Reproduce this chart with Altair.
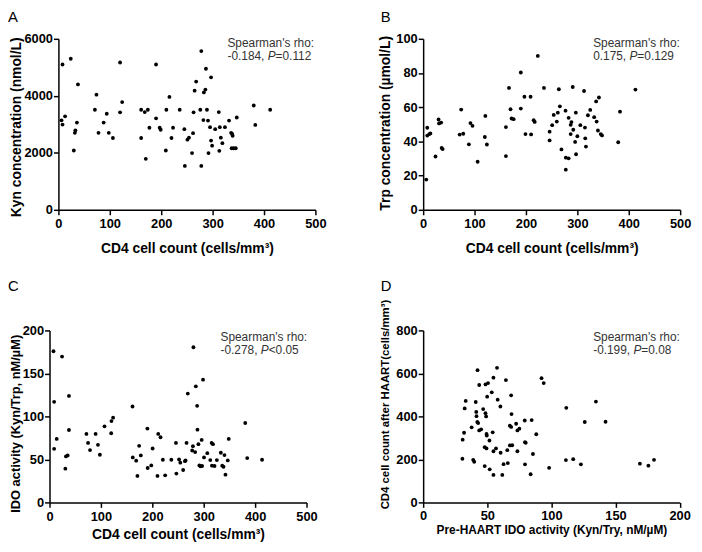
import altair as alt
import pandas as pd

# ---------------- data ----------------
a_x = [6, 8, 8, 13, 24, 30, 32, 33, 36, 38,
       71, 74, 78, 88, 94, 98, 106, 120, 120, 124,
       161, 161, 168, 170, 174, 177, 190, 190, 197, 199,
       209, 210, 216, 220, 223, 236, 245, 246, 251, 254,
       260, 262, 263, 265, 268, 276, 278, 278, 282, 283,
       286, 287, 289, 291, 292, 295, 297, 297, 299, 305,
       312, 313, 314, 316, 319, 324, 332, 336, 338, 339,
       337, 341, 345, 347, 380, 383, 412]
a_y = [3140, 2990, 5100, 3280, 5300, 2080, 2700, 2790, 3060, 4400,
       3510, 4040, 2700, 3060, 3370, 2700, 2520, 3420, 5170, 3780,
       3510, 2520, 3430, 1790, 3510, 2880, 5100, 3210, 2880, 2810,
       2080, 3510, 3960, 2520, 2880, 3510, 2830, 1540, 2460, 2530,
       1990, 2690, 3420, 4180, 4500, 3510, 5570, 1540, 3150, 4120,
       4220, 4950, 3510, 3130, 1990, 2900, 2430, 4650, 2250, 2830,
       3430, 2070, 2900, 2530, 2340, 2900, 3130, 2700, 2660, 2600,
       2160, 2160, 2160, 3240, 3660, 2980, 3510]

b_x = [6, 8, 8, 12, 14, 24, 30, 31, 35, 36, 38,
       71, 74, 78, 89, 92, 96, 106, 120, 121, 124,
       161, 161, 167, 170, 172, 176, 190, 190, 197, 199,
       209, 210, 215, 217, 223, 235, 246, 246, 251, 254,
       260, 264, 262, 266, 269, 277, 277.5, 283, 277.5, 283,
       287, 287, 288.5, 291, 292, 295.6, 297, 297.5, 300,
       305.8, 313, 314.8, 315.4, 316.7, 320.5, 325, 332.7, 336.5, 337.5,
       342, 340, 345.5, 348, 379.5, 383, 413]
b_y = [17.7, 48, 43.4, 44.3, 44.7, 31.2, 52.8, 50.5, 51, 36.2, 35.5,
       44, 58.6, 44.5, 38.3, 50.7, 49.1, 28.1, 42.6, 54.9, 38.2,
       31.4, 48.4, 71.3, 58.8, 53.4, 53, 80.3, 59.2, 66.1, 44.3,
       66.1, 44.1, 52.4, 51.4, 90, 71.3, 45.7, 40.6, 49.5, 55.5,
       51.6, 70.5, 56.8, 60.5, 35.3, 58, 30.5, 30.1, 23.5, 53.8,
       44.3, 49.7, 51.3, 71.8, 46.8, 39.7, 56.8, 32.5, 43,
       49.5, 69.5, 48.1, 41.8, 37, 55.3, 58.4, 54.2, 63.4, 51.6,
       65.7, 46.4, 44.3, 43.5, 39.5, 57.4, 70.3]

c_x = [7.7, 9, 9, 14, 24.4, 30.8, 32, 35.3, 37.8, 37.8,
       71.8, 75, 78.8, 89.7, 94.2, 98, 107, 120, 120.5, 123.7,
       161.5, 162, 168.6, 171, 174.4, 177.6, 191, 190.4, 198, 200.6,
       210, 211.5, 216, 220.5, 225, 237, 246, 246.8, 252, 254.5,
       260, 263.5, 264.7, 266.6, 269, 277.6, 279, 280, 283.3, 284.6,
       287.2, 287.8, 289.7, 291.6, 293.6, 296.8, 296, 298.7, 300.6, 307,
       312.8, 315.4, 318, 316, 321, 325.6, 333.3, 336, 338.5, 340.4,
       342.3, 346.8, 348.7, 380.8, 384.6, 413.5]
c_y = [175.8, 117, 62.3, 73.8, 169.6, 39.2, 53.5, 54.6, 123.8, 84.2,
       79.6, 69.2, 60.8, 79.6, 66.9, 55.4, 88.5, 80.4, 94.6, 98.5,
       111.5, 52.3, 48.5, 30.8, 65.8, 54.6, 40, 85.8, 43, 62.7,
       30.8, 79.6, 75.8, 49.6, 31.5, 49.6, 69.2, 33.5, 50, 46.2,
       37.7, 48, 48.8, 69.2, 126.5, 60.4, 65.4, 180.4, 58.5, 135,
       112.3, 84.6, 67.7, 43, 41.9, 42.3, 72.7, 142.7, 52.3, 57.3,
       49.2, 69.2, 67.7, 42.7, 42.3, 49.2, 57.7, 42.7, 41.5, 55,
       32.3, 48.8, 73.8, 92.3, 51.5, 49.6]

d_x = [30.6, 30.8, 31.9, 32.4, 33.2, 37.8, 39, 39.8, 41, 41.4,
       41.6, 42.4, 42.2, 42.9, 43.7, 43.7, 45.2, 46.8, 48, 48,
       48.6, 48.6, 49.1, 49.4, 49.6, 49.4, 49.9, 50.6, 51.7, 51.9,
       53.5, 54.2, 54.8, 54.8, 54.8, 56.8, 57.6, 58.1, 60.2, 60.4,
       61.7, 62.7, 64.5, 65.6, 66, 67.6, 67.6, 68.6, 68.9, 68.6,
       69.4, 72.5, 73.5, 73.5, 75, 79.2, 79.4, 80, 79.4, 83.8,
       84.6, 85.6, 88.2, 92.3, 94, 98.2, 111.3, 111.6, 117, 123,
       126, 134.7, 142.2, 169, 175.6, 180]
d_y = [203, 292, 324, 437, 472, 349, 198, 189, 467, 421,
       401, 615, 374, 369, 335, 546, 340, 434, 169, 257,
       549, 415, 400, 318, 311, 251, 492, 555, 288, 154,
       512, 326, 580, 128, 238, 251, 626, 478, 446, 231,
       128, 178, 569, 243, 183, 357, 265, 498, 411, 351,
       266, 366, 238, 335, 343, 381, 280, 277, 177, 131,
       383, 225, 317, 578, 555, 161, 197, 440, 201, 177,
       374, 469, 375, 180, 171, 198]

x_ticks_cd4 = [0, 100, 200, 300, 400, 500]
x_ticks_ido = [0, 50, 100, 150, 200]
y_ticks_kyn = [0, 2000, 4000, 6000]
y_ticks_trp = [0, 20, 40, 60, 80, 100]
y_ticks_ido = [0, 50, 100, 150, 200]
y_ticks_cd4 = [0, 200, 400, 600, 800]

letters = ["A", "B", "C", "D"]
rho_texts = ["-0.184, ", "0.175, ", "-0.278, ", "-0.199, "]
p_texts = ["=0.112", "=0.129", "<0.05", "=0.08"]
x_titles = ["CD4 cell count (cells/mm³)"] * 3 + ["Pre-HAART IDO activity (Kyn/Try, nM/µM)"]
y_titles = ["Kyn concentration (nmol/L)", "Trp concentration (µmol/L)",
            "IDO activity (Kyn/Trp, nM/µM)", "CD4 cell count after HAART(cells/mm³)"]

# ---------------- layout (page pixels) ----------------
FONT = "Liberation Sans"
W, H = 694, 544          # one shared view filling the page; panels get their own ranges


def vx(v):               # page x -> view x (page margin is 8px)
    return v - 8


def vy(v):
    return v - 8


# panel boxes in page pixels: left, right, top, bottom
boxes = [(59, 319, 36, 209), (428, 688, 36, 209), (50, 310, 331, 505), (428, 687.5, 331, 505)]
# y-title: baseline offset from axis, centre (page y), font size
ytitle_pos = [(-38.5, 125, 14), (-33.7, 121, 14), (-30, 425, 13), (-35.5, 405.5, 11.5)]
# x-title: baseline below axis, font size ; x-label padding
xtitle_pos = [(43.5, 14, 13.3), (43.5, 14, 13.3), (36.5, 14, 13.3), (31.5, 12, 12.5)]
letter_pos = [(8, 19), (385, 19), (8, 291.3), (385, 291)]
stat_pos = [(230, 44.5), (600, 44.5), (223, 342), (600, 342)]

CW = {"-": 333, ".": 278, ",": 278, " ": 278, "=": 584, "<": 584}


def text_width(s, size):
    return sum(CW.get(ch, 556) for ch in s) * size / 1000.0


def panel_points(i, xs, ys, xdom, ydom, xticks, yticks):
    l, r, t, b = boxes[i]
    ytx, ytc, yts = ytitle_pos[i]
    xty, xts, xlp = xtitle_pos[i]
    common = dict(
        grid=False, format="d",
        labelFont=FONT, labelFontSize=13, labelFontWeight="bold", labelColor="black",
        labelFlush=False, labelOverlap=False,
        tickColor="black", tickSize=5, tickWidth=1.5,
        domainColor="black", domainWidth=1.5,
        titleFont=FONT, titleFontWeight="bold", titleColor="black",
        titleBaseline="alphabetic", titleAlign="center",
    )
    xaxis = alt.Axis(orient="bottom", values=xticks, title=x_titles[i], offset=vy(b) - H,
                     labelBaseline="alphabetic", labelPadding=xlp,
                     titleFontSize=xts, titleX=(vx(l) + vx(r)) / 2, titleY=xty,
                     titleAngle=0, **common)
    yaxis = alt.Axis(orient="left", values=yticks, title=y_titles[i], offset=-vx(l),
                     labelBaseline="middle", labelPadding=1,
                     titleFontSize=yts, titleX=ytx, titleY=vy(ytc), titleAngle=270,
                     **common)
    df = pd.DataFrame({"x": xs, "y": ys})
    return alt.Chart(df).mark_circle(size=15, color="black", opacity=1).encode(
        x=alt.X("x:Q", axis=xaxis,
                scale=alt.Scale(domain=xdom, range=[vx(l), vx(r)], nice=False, zero=False)),
        y=alt.Y("y:Q", axis=yaxis,
                scale=alt.Scale(domain=ydom, range=[vy(b), vy(t)], nice=False, zero=False)),
    )


pA = panel_points(0, a_x, a_y, [0, 500], [0, 6000], x_ticks_cd4, y_ticks_kyn)
pB = panel_points(1, b_x, b_y, [0, 500], [0, 100], x_ticks_cd4, y_ticks_trp)
pC = panel_points(2, c_x, c_y, [0, 500], [0, 200], x_ticks_cd4, y_ticks_ido)
pD = panel_points(3, d_x, d_y, [0, 200], [0, 800], x_ticks_ido, y_ticks_cd4)

# panel letters
lab_df = pd.DataFrame({
    "t": letters,
    "px": [vx(p[0]) for p in letter_pos],
    "py": [vy(p[1]) for p in letter_pos],
})
labels = alt.Chart(lab_df).mark_text(
    font=FONT, fontSize=15, color="black", align="left", baseline="alphabetic"
).encode(text="t:N", x=alt.X("px:Q", scale=None), y=alt.Y("py:Q", scale=None))

# Spearman annotations (italic P chained after the prefix)
rows = []
for i in range(4):
    sx, sy = stat_pos[i]
    w1 = text_width(rho_texts[i], 12)
    w2 = w1 + 667 * 12 / 1000.0
    rows += [
        ("Spearman's rho:", vx(sx), vy(sy), "normal"),
        (rho_texts[i], vx(sx), vy(sy + 13.3), "normal"),
        ("P", vx(sx) + w1, vy(sy + 13.3), "italic"),
        (p_texts[i], vx(sx) + w2, vy(sy + 13.3), "normal"),
    ]
ann = pd.DataFrame(rows, columns=["t", "px", "py", "st"])
ann_normal = alt.Chart(ann).transform_filter("datum.st == 'normal'").mark_text(
    font=FONT, fontSize=12, color="#333333", align="left", baseline="alphabetic"
).encode(text="t:N", x=alt.X("px:Q", scale=None), y=alt.Y("py:Q", scale=None))
ann_italic = alt.Chart(ann).transform_filter("datum.st == 'italic'").mark_text(
    font=FONT, fontSize=12, color="#333333", align="left", baseline="alphabetic",
    fontStyle="italic"
).encode(text="t:N", x=alt.X("px:Q", scale=None), y=alt.Y("py:Q", scale=None))

chart = alt.layer(pA, pB, pC, pD, labels, ann_normal, ann_italic).resolve_scale(
    x="independent", y="independent"
).resolve_axis(
    x="independent", y="independent"
).properties(
    width=W, height=H, padding=0, autosize=alt.AutoSizeParams(type="none")
).configure_view(stroke=None)

chart.save("out.html", embed_options={"renderer": "svg", "actions": False})
